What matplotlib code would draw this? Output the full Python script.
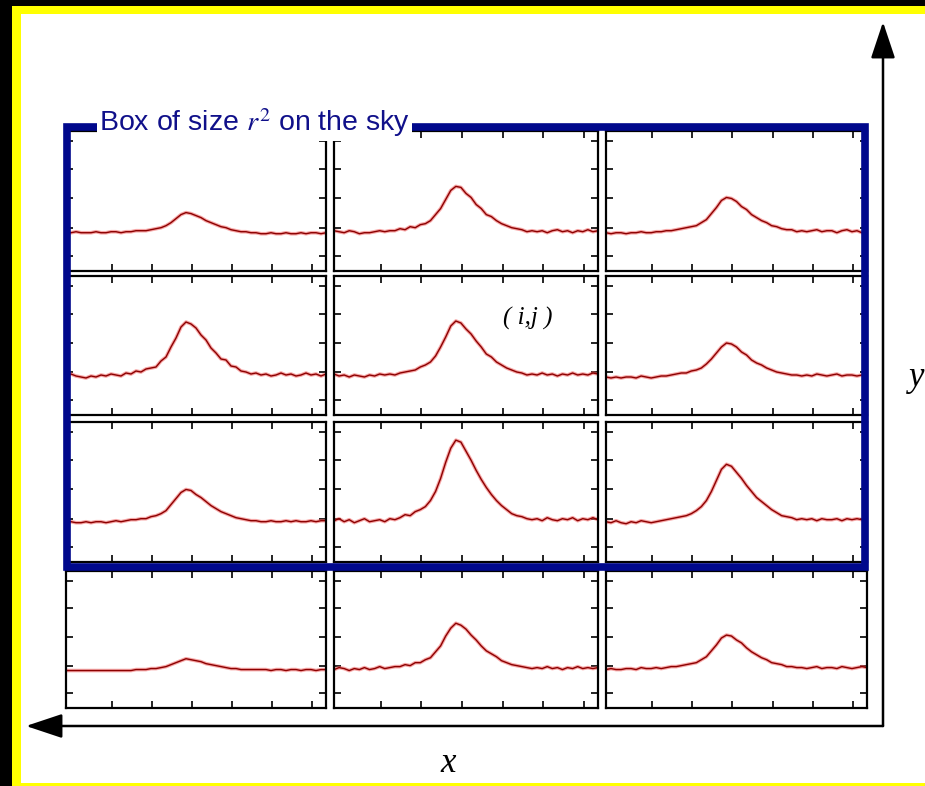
import numpy as np
import matplotlib.pyplot as plt
from matplotlib.patches import Rectangle, FancyArrowPatch

plt.rcParams['mathtext.fontset'] = 'stix'

W, H = 925, 786

# line profiles, 53 channels each, intensity in arbitrary units
spec_r1c1 = [38, 38, 39, 38, 38, 38, 39, 38, 38, 39, 39,
             38, 39, 39, 40, 40, 40, 41, 42, 43, 45, 48, 52, 56, 58,
             57, 55, 53, 50, 48, 46, 44, 43, 41, 40, 39, 39, 38, 38, 37,
             37, 38, 37, 37, 38, 37, 37, 38, 37, 38, 38, 37, 38]
spec_r1c2 = [40, 39, 38, 40, 39, 37, 38, 38, 39, 40, 39,
             40, 40, 42, 41, 44, 43, 46, 47, 50, 56, 62, 71, 80, 84,
             83, 77, 73, 66, 62, 56, 54, 50, 47, 45, 43, 42, 41, 39, 40,
             39, 40, 38, 40, 41, 39, 40, 38, 40, 39, 41, 39, 40]
spec_r1c3 = [38, 37, 38, 38, 37, 38, 38, 39, 38, 38, 39,
             39, 40, 40, 41, 42, 43, 44, 45, 48, 51, 57, 63, 70, 73,
             72, 69, 64, 61, 56, 53, 50, 48, 45, 44, 42, 41, 41, 39, 40,
             39, 40, 41, 39, 40, 40, 38, 40, 41, 39, 40, 38, 40]
spec_r2c1 = [40, 41, 39, 38, 37, 39, 38, 40, 39, 41, 40,
             39, 42, 41, 44, 43, 46, 47, 48, 54, 58, 68, 77, 88, 93,
             91, 87, 80, 75, 67, 62, 56, 55, 49, 48, 44, 43, 41, 42, 40,
             41, 39, 40, 42, 40, 41, 39, 40, 42, 40, 41, 39, 41]
spec_r2c2 = [41, 39, 40, 38, 40, 39, 38, 40, 39, 41, 40,
             41, 40, 42, 43, 44, 45, 48, 50, 53, 59, 68, 78, 89, 94,
             92, 86, 81, 74, 68, 61, 58, 53, 50, 47, 45, 43, 42, 40, 41,
             40, 42, 40, 41, 39, 41, 40, 42, 40, 41, 40, 42, 41]
spec_r2c3 = [38, 37, 38, 37, 38, 38, 37, 39, 38, 37, 38,
             39, 39, 40, 41, 42, 42, 44, 45, 47, 51, 56, 62, 68, 72,
             71, 68, 63, 60, 55, 52, 50, 47, 45, 43, 42, 41, 40, 40, 39,
             40, 39, 41, 40, 39, 40, 41, 39, 40, 40, 39, 40, 40]
spec_r3c1 = [39, 40, 39, 39, 40, 39, 40, 40, 39, 40, 41,
             40, 41, 42, 42, 43, 43, 45, 46, 48, 51, 57, 63, 69, 72,
             71, 67, 64, 60, 56, 53, 50, 48, 46, 44, 43, 42, 41, 41, 40,
             40, 41, 40, 40, 41, 40, 41, 40, 40, 41, 40, 41, 41]
spec_r3c2 = [41, 43, 40, 42, 39, 41, 43, 40, 41, 42, 40,
             43, 42, 44, 47, 46, 50, 52, 55, 61, 70, 83, 99, 113, 121,
             119, 110, 101, 91, 82, 74, 67, 61, 56, 52, 48, 46, 45, 43, 42,
             43, 41, 44, 42, 41, 43, 42, 44, 41, 43, 42, 44, 42]
spec_r3c3 = [40, 39, 41, 39, 38, 40, 39, 41, 40, 39, 40,
             41, 42, 43, 44, 45, 46, 48, 51, 55, 61, 70, 81, 92, 97,
             95, 89, 83, 76, 70, 64, 60, 56, 52, 49, 46, 45, 44, 42, 43,
             42, 43, 41, 43, 42, 42, 43, 41, 43, 42, 43, 42, 43]
spec_r4c1 = [38, 38, 38, 38, 38, 38, 38, 38, 38, 38, 38,
             38, 38, 38, 39, 39, 39, 40, 40, 41, 42, 44, 46, 48, 50,
             49, 48, 47, 45, 44, 43, 42, 41, 40, 40, 39, 39, 39, 39, 39,
             39, 38, 39, 39, 38, 39, 39, 38, 39, 39, 38, 39, 39]
spec_r4c2 = [39, 41, 40, 38, 40, 39, 41, 39, 40, 42, 40,
             41, 42, 42, 44, 43, 46, 46, 49, 51, 57, 63, 73, 81, 86,
             84, 80, 74, 69, 63, 58, 55, 52, 48, 46, 44, 43, 42, 41, 40,
             41, 40, 42, 40, 41, 39, 41, 40, 42, 40, 41, 40, 41]
spec_r4c3 = [39, 40, 39, 39, 40, 40, 39, 41, 40, 40, 41,
             40, 41, 42, 42, 43, 44, 45, 46, 49, 52, 58, 64, 71, 74,
             73, 69, 66, 61, 57, 54, 51, 49, 46, 45, 44, 42, 42, 41, 41,
             40, 41, 42, 40, 41, 41, 40, 42, 41, 40, 41, 42, 41]

grid = [[spec_r1c1, spec_r1c2, spec_r1c3],
        [spec_r2c1, spec_r2c2, spec_r2c3],
        [spec_r3c1, spec_r3c2, spec_r3c3],
        [spec_r4c1, spec_r4c2, spec_r4c3]]
chan = np.arange(len(spec_r1c1))

box_label = r'Box of size $r^2$ on the sky'

# panel placement in pixels (left, right) / (top, bottom)
cols = [(66, 326), (334, 598), (606, 867)]
rows = [(131, 271), (276, 415), (422, 562), (571, 708)]


def fx(px):
    return px / W


def fy(py):
    return 1 - py / H


fig = plt.figure(figsize=(W / 100, H / 100), dpi=100)
fig.patch.set_facecolor('black')
fig.add_artist(Rectangle((fx(12), 0), 1, fy(6), transform=fig.transFigure,
                         facecolor='#ffff00', edgecolor='none', zorder=-3))
fig.add_artist(Rectangle((fx(21), fy(783)), 1, fy(14) - fy(783),
                         transform=fig.transFigure, facecolor='white',
                         edgecolor='none', zorder=-2))

for r, (top, bot) in enumerate(rows):
    for c, (left, right) in enumerate(cols):
        ax = fig.add_axes([fx(left), fy(bot), fx(right) - fx(left), fy(top) - fy(bot)])
        spec = grid[r][c]
        ax.plot(chan, spec, color='#f06060', lw=2.6, alpha=0.55)
        ax.plot(chan, spec, color='#8c0000', lw=1.0)
        ax.set_xlim(0, 52)
        ax.set_ylim(0, 139)
        ax.set_xticks(np.arange(9.2, 52, 8))
        ax.set_yticks([15, 43, 72, 101, 129])
        ax.tick_params(direction='in', length=5, width=1.2, top=True, right=True,
                       labelbottom=False, labelleft=False)
        for s in ax.spines.values():
            s.set_linewidth(1.6)

# blue outline of the r x r box
fig.add_artist(Rectangle((fx(67), fy(567)), fx(865) - fx(67), fy(127) - fy(567),
                         transform=fig.transFigure, fill=False,
                         edgecolor='#00088c', lw=5.5, zorder=10))
fig.text(fx(99), fy(131), box_label, color='#10108a', fontsize=20.5,
         family='Liberation Sans', ha='left', va='baseline', zorder=11,
         bbox=dict(facecolor='white', edgecolor='none', pad=1.2))

# sky axes
arrow_kw = dict(transform=fig.transFigure, arrowstyle='-|>,head_length=1.5,head_width=0.5',
                mutation_scale=15, lw=1.8, color='black', shrinkA=0, shrinkB=0, zorder=12)
fig.add_artist(FancyArrowPatch((fx(883), fy(726)), (fx(883), fy(22)), **arrow_kw))
fig.add_artist(FancyArrowPatch((fx(883), fy(726)), (fx(26), fy(726)), **arrow_kw))

fig.text(fx(448), fy(764), 'x', fontsize=25, style='italic', family='Liberation Serif',
         ha='center', va='center')
fig.text(fx(917), fy(377), 'y', fontsize=25, style='italic', family='Liberation Serif',
         ha='center', va='center')
fig.text(fx(528), fy(318), '( i,j )', fontsize=18, style='italic', family='Liberation Serif',
         ha='center', va='center')

fig.savefig('out.png', dpi=100, facecolor=fig.get_facecolor())
